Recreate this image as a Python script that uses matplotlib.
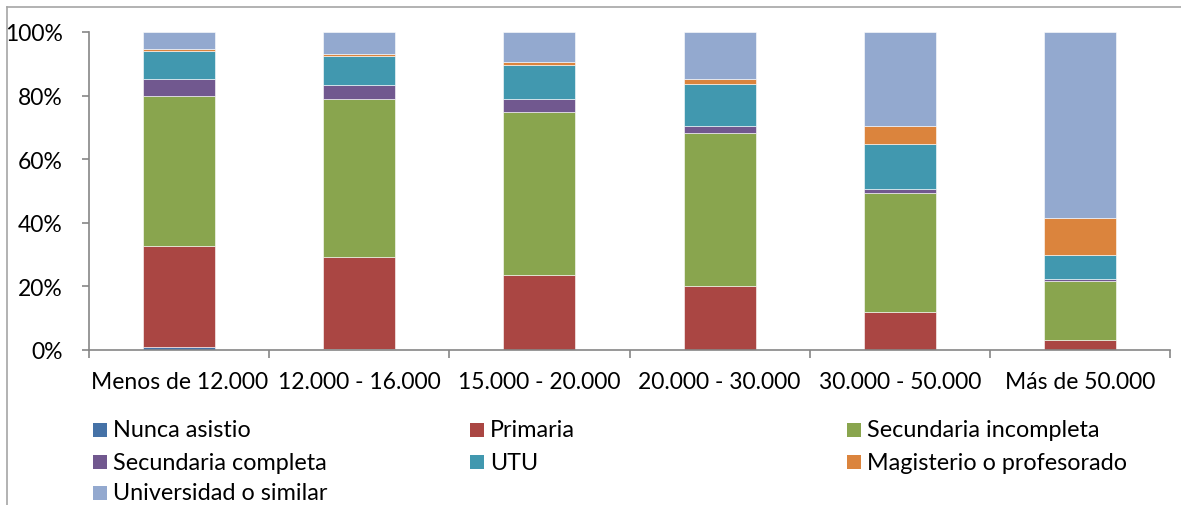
import numpy as np
import matplotlib.pyplot as plt
from matplotlib.patches import Rectangle
from matplotlib.lines import Line2D
from matplotlib.ticker import PercentFormatter

plt.rcParams['font.family'] = ['Lato', 'DejaVu Sans']
plt.rcParams['font.size'] = 16.5

categories = ["Menos de 12.000", "12.000 - 16.000", "15.000 - 20.000",
              "20.000 - 30.000", "30.000 - 50.000", "Más de 50.000"]

# porcentajes por nivel educativo
nunca_asistio = [0.9, 0.3, 0.1, 0.1, 0.0, 0.0]
primaria = [31.9, 29.1, 23.5, 19.9, 11.9, 3.2]
sec_incompleta = [47.1, 49.6, 51.3, 48.3, 37.4, 18.6]
sec_completa = [5.2, 4.3, 3.9, 2.1, 1.2, 0.4]
utu = [8.8, 9.0, 10.8, 13.1, 14.3, 7.6]
magisterio = [0.6, 0.9, 1.0, 1.6, 5.5, 11.7]
universidad = [5.5, 6.8, 9.4, 14.9, 29.7, 58.5]

series = [
    ("Nunca asistio", nunca_asistio, "#4572A7"),
    ("Primaria", primaria, "#AA4643"),
    ("Secundaria incompleta", sec_incompleta, "#89A54E"),
    ("Secundaria completa", sec_completa, "#71588F"),
    ("UTU", utu, "#4198AF"),
    ("Magisterio o profesorado", magisterio, "#DB843D"),
    ("Universidad o similar", universidad, "#93A9CF"),
]

W, H = 1181, 506
fig = plt.figure(figsize=(W/100, H/100), dpi=100)
ax = fig.add_axes([89/W, 1-351/H, 1081/W, 318/H])

x = np.arange(len(categories))
bottom = np.zeros(len(categories))
for name, vals, col in series:
    vals = np.array(vals)
    ax.bar(x, vals, 0.4, bottom=bottom, color=col, edgecolor="#ffffff",
           linewidth=0.4, label=name)
    bottom += vals

ax.set_xlim(-0.5, len(categories) - 0.5)
ax.set_ylim(0, 100)
ax.set_yticks(np.arange(0, 101, 20))
ax.yaxis.set_major_formatter(PercentFormatter(decimals=0))
ax.set_xticks(x)
ax.set_xticklabels(categories)
ax.set_xticks(np.arange(-0.5, len(categories)), minor=True)
ax.tick_params(axis='x', which='major', length=0, pad=15)
ax.tick_params(axis='x', which='minor', length=6, color="#868686", width=1.2)
ax.tick_params(axis='y', length=5, color="#868686", width=1.2, pad=14)

for s in ["top", "right"]:
    ax.spines[s].set_visible(False)
for s in ["left", "bottom"]:
    ax.spines[s].set_color("#868686")
    ax.spines[s].set_linewidth(1.2)

# leyenda en 3 columnas, orden por filas
col_x = [93, 470, 847]
row_y = [431, 463, 494]
for i, (name, vals, col) in enumerate(series):
    cx = col_x[i % 3]
    cy = row_y[i // 3]
    fig.add_artist(Rectangle((cx/W, 1-(cy+7)/H), 14/W, 14/H,
                             transform=fig.transFigure, facecolor=col,
                             edgecolor="none"))
    fig.text((cx+20)/W, 1-cy/H, name, va="center", ha="left", fontsize=16.8)

# marco del grafico
fig.add_artist(Line2D([7/W, 7/W], [0, 1-8/H], color="#a6a6a6", linewidth=1.2))
fig.add_artist(Line2D([7/W, 1], [1-8/H, 1-8/H], color="#a6a6a6", linewidth=1.2))

fig.savefig("out.png", dpi=100)
